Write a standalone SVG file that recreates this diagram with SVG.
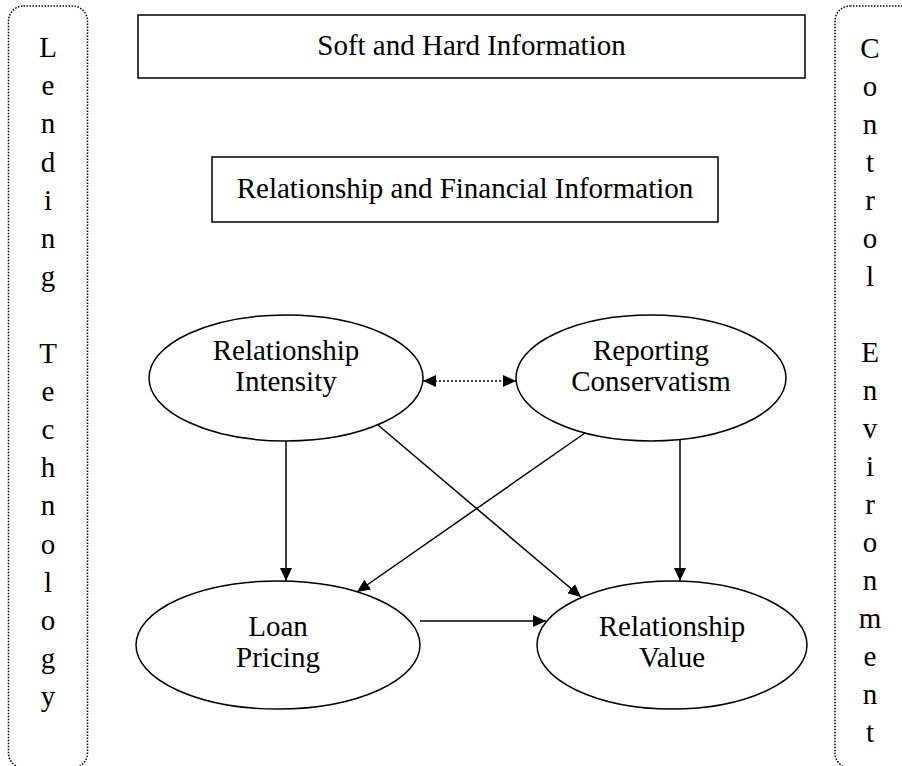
<svg xmlns="http://www.w3.org/2000/svg" width="902" height="766" viewBox="0 0 902 766">
<style>
text{font-family:"Liberation Serif","Times New Roman",serif;font-size:29px;fill:#000;text-anchor:middle}
.box{fill:#fff;stroke:#000;stroke-width:1.5}
.side{fill:none;stroke:#000;stroke-width:1.5;stroke-dasharray:1.5 1.5}
.ell{fill:#fff;stroke:#000;stroke-width:1.5}
.arr{stroke:#000;stroke-width:1.5;fill:none;marker-end:url(#ah)}
.dot{stroke:#000;stroke-width:1.5;fill:none;stroke-dasharray:2 2;marker-end:url(#ah);marker-start:url(#ahs)}
</style>
<defs>
<marker id="ah" markerUnits="userSpaceOnUse" markerWidth="14" markerHeight="12" refX="13" refY="6" orient="auto"><path d="M0,0 L13,6 L0,12 Z" fill="#000"/></marker>
<marker id="ahs" markerUnits="userSpaceOnUse" markerWidth="14" markerHeight="12" refX="0" refY="6" orient="auto"><path d="M13,0 L0,6 L13,12 Z" fill="#000"/></marker>
</defs>
<g id="lending-technology">
<rect class="side" x="8.5" y="6" width="79" height="762" rx="15"/>
<text x="48" y="57">L</text><text x="48" y="95">e</text><text x="48" y="133">n</text><text x="48" y="172">d</text><text x="48" y="210">i</text><text x="48" y="248">n</text><text x="48" y="286">g</text>
<text x="48" y="363">T</text><text x="48" y="401">e</text><text x="48" y="439">c</text><text x="48" y="477">h</text><text x="48" y="515">n</text><text x="48" y="554">o</text><text x="48" y="592">l</text><text x="48" y="630">o</text><text x="48" y="668">g</text><text x="48" y="706">y</text>
</g>
<g id="control-environment">
<rect class="side" x="835" y="6" width="90" height="762" rx="15"/>
<text x="870" y="58">C</text><text x="870" y="96">o</text><text x="870" y="134">n</text><text x="870" y="172">t</text><text x="870" y="210">r</text><text x="870" y="248">o</text><text x="870" y="286">l</text>
<text x="870" y="362">E</text><text x="870" y="400">n</text><text x="870" y="438">v</text><text x="870" y="476">i</text><text x="870" y="514">r</text><text x="870" y="552">o</text><text x="870" y="590">n</text><text x="870" y="628">m</text><text x="870" y="666">e</text><text x="870" y="704">n</text><text x="870" y="742">t</text>
</g>
<g id="soft-hard">
<rect class="box" x="138" y="15" width="667" height="63"/>
<text x="471.5" y="55">Soft and Hard Information</text>
</g>
<g id="rel-fin">
<rect class="box" x="212" y="157" width="506" height="65"/>
<text x="465" y="198">Relationship and Financial Information</text>
</g>
<g id="intensity">
<ellipse class="ell" cx="286" cy="378" rx="137" ry="63"/>
<text x="286" y="360">Relationship</text><text x="286" y="391">Intensity</text>
</g>
<g id="conservatism">
<ellipse class="ell" cx="651" cy="378" rx="135" ry="63"/>
<text x="651" y="360">Reporting</text><text x="651" y="391">Conservatism</text>
</g>
<g id="loan-pricing">
<ellipse class="ell" cx="278" cy="645" rx="142" ry="64"/>
<text x="278" y="636">Loan</text><text x="278" y="667">Pricing</text>
</g>
<g id="rel-value">
<ellipse class="ell" cx="672" cy="645" rx="135" ry="64"/>
<text x="672" y="636">Relationship</text><text x="672" y="667">Value</text>
</g>
<g id="connectors">
<line class="dot" x1="423" y1="381" x2="516" y2="381"/>
<line class="arr" x1="286" y1="441" x2="286" y2="581"/>
<line class="arr" x1="680" y1="440" x2="680" y2="581"/>
<line class="arr" x1="378" y1="425" x2="581" y2="597"/>
<line class="arr" x1="585" y1="433" x2="357" y2="592"/>
<line class="arr" x1="420" y1="621" x2="546" y2="621"/>
</g>
</svg>
